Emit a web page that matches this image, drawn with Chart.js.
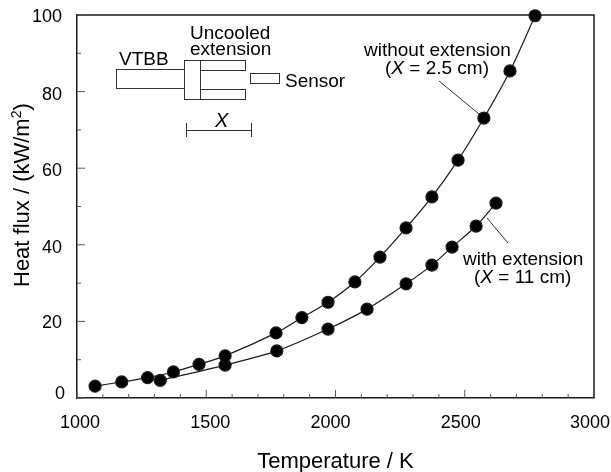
<!DOCTYPE html>
<html>
<head>
<meta charset="utf-8">
<script src="https://cdn.jsdelivr.net/npm/chart.js@4"></script>
<style>
  html, body { margin: 0; padding: 0; background: #fff; }
  #wrap { width: 611px; height: 472px; }
</style>
</head>
<body>
<div id="wrap"><canvas id="myChart" width="611" height="472"></canvas></div>
<script>
// values
const tempWithout = [1070, 1173, 1273, 1373, 1472, 1573, 1770, 1870, 1971, 2075, 2172, 2273, 2373, 2474, 2574, 2675, 2772];
const fluxWithout = [3.1, 4.2, 5.3, 6.8, 8.8, 11, 17, 21, 25, 30.3, 36.8, 44.4, 52.5, 62.1, 73.1, 85.4, 99.8];
const tempWith = [1322, 1573, 1773, 1971, 2122, 2273, 2373, 2451, 2544, 2621];
const fluxWith = [4.6, 8.6, 12.3, 18, 23.2, 29.8, 34.7, 39.4, 44.9, 50.9];
const xTicks = [1000, 1500, 2000, 2500, 3000];
const yTicks = [0, 20, 40, 60, 80, 100];

const font = '"Liberation Sans", Arial, sans-serif';
const ink = '#1a1a1a';

function toPoints(xs, ys) {
    return xs.map((x, i) => ({ x: x, y: ys[i] }));
}

// frame top and right, and ticks pointing into the plot
const frameTicks = {
    id: 'frameTicks',
    beforeDatasetsDraw(chart) {
        const c = chart.ctx, a = chart.chartArea;
        const sx = chart.scales.x, sy = chart.scales.y;
        c.save();
        c.strokeStyle = ink;
        c.lineWidth = 1.5;
        c.beginPath();
        c.moveTo(a.left, a.top);
        c.lineTo(a.right, a.top);
        c.lineTo(a.right, a.bottom);
        c.stroke();
        c.lineWidth = 1;
        c.strokeStyle = '#555';
        c.beginPath();
        for (let v = 1000; v <= 3000; v += 100) {
            const px = sx.getPixelForValue(v);
            const len = v % 500 === 0 ? 8 : 4;
            c.moveTo(px, a.bottom);
            c.lineTo(px, a.bottom - len);
        }
        for (let v = 0; v <= 100; v += 10) {
            const py = sy.getPixelForValue(v);
            const len = v % 20 === 0 ? 8 : 4;
            c.moveTo(a.left, py);
            c.lineTo(a.left + len, py);
        }
        c.stroke();
        c.restore();
    }
};

// the printed tick labels do not sit quite on their ticks, so they are nudged one by one
const tickLabels = {
    id: 'tickLabels',
    afterDraw(chart) {
        const c = chart.ctx;
        const sx = chart.scales.x, sy = chart.scales.y;
        const xNudge = [3, 4, -5, -4, -4];
        const yNudge = [-4, 2, 3, 3, 3, 2];
        c.save();
        c.fillStyle = '#000';
        c.font = '18px ' + font;
        c.textBaseline = 'middle';
        c.textAlign = 'center';
        xTicks.forEach((v, i) => c.fillText(String(v), sx.getPixelForValue(v) + xNudge[i], 423));
        c.textAlign = 'right';
        yTicks.forEach((v, i) => c.fillText(String(v), v === 0 ? 65 : 62, sy.getPixelForValue(v) + yNudge[i]));
        c.restore();
    }
};

// write a line where the X is italic
function withItalicX(c, before, after, x, y) {
    c.font = '19px ' + font;
    c.fillText(before, x, y);
    x += c.measureText(before).width;
    c.font = 'italic 19px ' + font;
    c.fillText('X', x, y);
    x += c.measureText('X').width;
    c.font = '19px ' + font;
    c.fillText(after, x, y);
}

// furnace sketch, leader lines and the notes inside the plot
const notes = {
    id: 'notes',
    afterDatasetsDraw(chart) {
        const c = chart.ctx;
        c.save();
        c.strokeStyle = '#333';
        c.fillStyle = '#000';
        c.lineWidth = 1;
        c.strokeRect(116.5, 69.5, 68, 19);
        c.strokeRect(184.5, 60.5, 16, 39);
        c.strokeRect(200.5, 60.5, 45, 10);
        c.strokeRect(200.5, 89.5, 45, 10);
        c.strokeRect(250.5, 73.5, 29, 10);
        c.beginPath();
        c.moveTo(186.5, 123); c.lineTo(186.5, 137);
        c.moveTo(186.5, 130.5); c.lineTo(251.5, 130.5);
        c.moveTo(251.5, 123); c.lineTo(251.5, 137);
        c.moveTo(439, 81); c.lineTo(479, 114);
        c.moveTo(487, 218); c.lineTo(508, 243);
        c.stroke();

        c.textBaseline = 'alphabetic';
        c.textAlign = 'left';
        c.font = '19px ' + font;
        c.fillText('VTBB', 119, 65);
        c.fillText('Uncooled', 190, 39);
        c.fillText('extension', 190, 55);
        c.fillText('Sensor', 285, 87);
        c.fillText('without extension', 364, 56);
        c.fillText('with extension', 463, 265);
        withItalicX(c, '(', ' = 2.5 cm)', 385, 74);
        withItalicX(c, '(', ' = 11 cm)', 474, 283);
        c.font = 'italic 20px ' + font;
        c.fillText('X', 215, 127);

        // y title, set by hand for the raised 2
        c.translate(28.5, 287);
        c.rotate(-Math.PI / 2);
        c.font = '22px ' + font;
        const head = 'Heat flux / (kW/m';
        c.fillText(head, 0, 0);
        let w = c.measureText(head).width;
        c.font = '14px ' + font;
        c.fillText('2', w, -8);
        w += c.measureText('2').width;
        c.font = '22px ' + font;
        c.fillText(')', w, 0);
        c.restore();
    }
};

const ctx = document.getElementById('myChart');
const myChart = new Chart(ctx, {
    type: 'line',
    data: {
        datasets: [
            {
                label: 'without extension (X = 2.5 cm)',
                data: toPoints(tempWithout, fluxWithout),
                borderColor: ink,
                backgroundColor: '#000',
                borderWidth: 1.2,
                pointRadius: 6,
                tension: 0.3,
                clip: false
            },
            {
                label: 'with extension (X = 11 cm)',
                data: toPoints(tempWith, fluxWith),
                borderColor: ink,
                backgroundColor: '#000',
                borderWidth: 1.2,
                pointRadius: 6,
                tension: 0.3,
                clip: false
            }
        ]
    },
    plugins: [frameTicks, notes, tickLabels],
    options: {
        responsive: false,
        animation: false,
        layout: { padding: 0 },
        plugins: { legend: { display: false }, tooltip: { enabled: false } },
        scales: {
            x: {
                type: 'linear',
                min: 1000,
                max: 3000,
                afterBuildTicks(scale) { scale.ticks = xTicks.map(v => ({ value: v })); },
                afterFit(scale) {
                    scale.height = 74;
                    scale.paddingRight = 17;
                    scale.paddingLeft = 0;
                },
                border: { color: ink, width: 1.5 },
                grid: { display: false },
                ticks: { display: false },
                title: { display: true, text: 'Temperature / K', color: '#000', font: { family: font, size: 22 }, padding: { top: 23, bottom: -3 } }
            },
            y: {
                type: 'linear',
                min: 0,
                max: 100,
                afterBuildTicks(scale) { scale.ticks = yTicks.map(v => ({ value: v })); },
                afterFit(scale) {
                    scale.width = 77;
                    scale.paddingTop = 15;
                    scale.paddingBottom = 0;
                },
                border: { color: ink, width: 1.5 },
                grid: { display: false },
                ticks: { display: false }
            }
        }
    }
});
</script>
</body>
</html>
